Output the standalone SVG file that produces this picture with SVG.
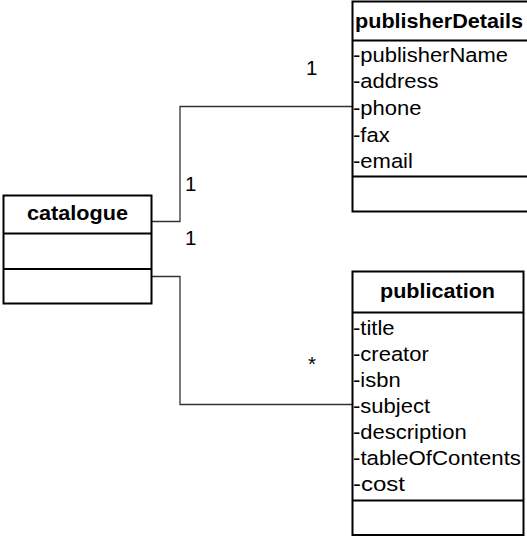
<svg xmlns="http://www.w3.org/2000/svg" width="527" height="538" viewBox="0 0 527 538">
<style>
.box{fill:#fff;stroke:#000;stroke-width:2}
.sep{stroke:#000;stroke-width:2}
.conn{fill:none;stroke:#333;stroke-width:1.3}
text{font-family:"Liberation Sans",Arial,sans-serif;font-size:20.5px;fill:#000}
.hd{font-weight:bold}
</style>
<rect width="527" height="538" fill="#fff"/>
<g id="connectors">
<polyline class="conn" points="151.5,221.5 180,221.5 180,106.5 352.5,106.5"/>
<polyline class="conn" points="151.5,276.5 180,276.5 180,404.5 352.5,404.5"/>
<text x="306" y="75">1</text>
<text x="185" y="191">1</text>
<text x="185" y="245">1</text>
<text x="308" y="371">*</text>
</g>
<g id="publisherDetails">
<rect class="box" x="352.5" y="1.5" width="180" height="210"/>
<line class="sep" x1="352.5" y1="40.5" x2="530" y2="40.5"/>
<line class="sep" x1="352.5" y1="176.5" x2="530" y2="176.5"/>
<text class="hd" x="355" y="28" textLength="168" lengthAdjust="spacingAndGlyphs">publisherDetails</text>
<text x="353" y="61.8" textLength="155" lengthAdjust="spacingAndGlyphs">-publisherName</text>
<text x="353" y="88.4" textLength="85.5" lengthAdjust="spacingAndGlyphs">-address</text>
<text x="353" y="115" textLength="68.5" lengthAdjust="spacingAndGlyphs">-phone</text>
<text x="353" y="141.6" textLength="36.7" lengthAdjust="spacingAndGlyphs">-fax</text>
<text x="353" y="168.2" textLength="59.9" lengthAdjust="spacingAndGlyphs">-email</text>
</g>
<g id="catalogue">
<rect class="box" x="3.5" y="195.5" width="148" height="108"/>
<line class="sep" x1="3.5" y1="233.5" x2="151.5" y2="233.5"/>
<line class="sep" x1="3.5" y1="269" x2="151.5" y2="269"/>
<text class="hd" x="77.5" y="220" text-anchor="middle" textLength="101" lengthAdjust="spacingAndGlyphs">catalogue</text>
</g>
<g id="publication">
<rect class="box" x="352.5" y="271.5" width="171" height="263.5"/>
<line class="sep" x1="352.5" y1="312.5" x2="523.5" y2="312.5"/>
<line class="sep" x1="352.5" y1="500.5" x2="523.5" y2="500.5"/>
<text class="hd" x="437.5" y="298" text-anchor="middle" textLength="115" lengthAdjust="spacingAndGlyphs">publication</text>
<text x="353" y="334.5" textLength="41.6" lengthAdjust="spacingAndGlyphs">-title</text>
<text x="353" y="360.6" textLength="75.8" lengthAdjust="spacingAndGlyphs">-creator</text>
<text x="353" y="386.7" textLength="47.7" lengthAdjust="spacingAndGlyphs">-isbn</text>
<text x="353" y="412.8" textLength="77" lengthAdjust="spacingAndGlyphs">-subject</text>
<text x="353" y="438.9" textLength="113.7" lengthAdjust="spacingAndGlyphs">-description</text>
<text x="353" y="465" textLength="168" lengthAdjust="spacingAndGlyphs">-tableOfContents</text>
<text x="353" y="491.1" textLength="52" lengthAdjust="spacingAndGlyphs">-cost</text>
</g>
</svg>
